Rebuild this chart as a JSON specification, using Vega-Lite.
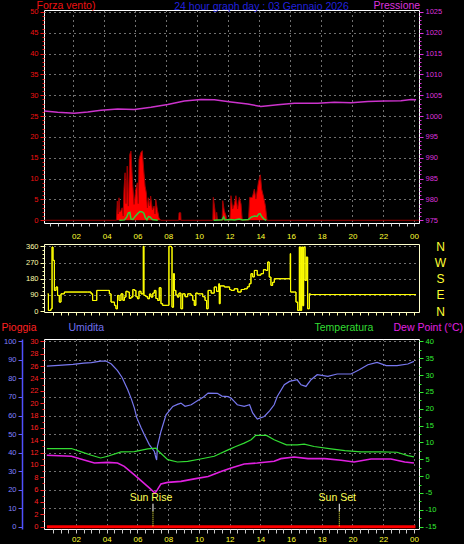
{
  "$schema": "https://vega.github.io/schema/vega-lite/v6.json",
  "background": "black",
  "padding": 0,
  "spacing": 4,
  "config": {
    "view": {"stroke": "#ffffff", "strokeWidth": 1},
    "axis": {"labelFont": "Liberation Sans", "titleFont": "Liberation Sans", "titleFontWeight": "normal", "labelOverlap": false, "labelFlush": false, "labelBound": false, "grid": false, "domain": false, "gridDash": [1, 4], "gridColor": "#e0e0e0", "titleAngle": 0, "titlePadding": 0},
    "text": {"font": "Liberation Sans"}
  },
  "datasets": {
    "pressure": [{"h":0.13,"v":1001.2},{"h":0.99,"v":1000.9},{"h":2.06,"v":1000.7},{"h":2.93,"v":1001.0},{"h":3.79,"v":1001.4},{"h":4.86,"v":1001.7},{"h":5.94,"v":1001.6},{"h":7.01,"v":1002.1},{"h":8.09,"v":1002.8},{"h":9.16,"v":1003.6},{"h":10.24,"v":1004.0},{"h":11.1,"v":1003.9},{"h":12.17,"v":1003.4},{"h":13.25,"v":1002.9},{"h":14.1,"v":1002.3},{"h":15.19,"v":1002.7},{"h":16.26,"v":1003.1},{"h":17.77,"v":1003.1},{"h":18.84,"v":1003.3},{"h":19.92,"v":1003.2},{"h":21.0,"v":1003.5},{"h":22.06,"v":1003.6},{"h":23.14,"v":1003.7},{"h":23.79,"v":1004.0},{"h":24.11,"v":1003.9}],
    "wind": [{"h":0,"v":0},{"h":4.78,"v":0},{"h":4.84,"v":4.6},{"h":4.9,"v":1.5},{"h":4.95,"v":5.4},{"h":5.0,"v":2},{"h":5.06,"v":2.2},{"h":5.15,"v":3},{"h":5.22,"v":1},{"h":5.27,"v":7.4},{"h":5.34,"v":11.4},{"h":5.4,"v":4},{"h":5.48,"v":13},{"h":5.55,"v":3.4},{"h":5.64,"v":15.8},{"h":5.72,"v":16.6},{"h":5.81,"v":9.8},{"h":5.92,"v":3.8},{"h":6.03,"v":7.4},{"h":6.13,"v":9},{"h":6.19,"v":4},{"h":6.24,"v":14.6},{"h":6.35,"v":16.2},{"h":6.45,"v":16.7},{"h":6.54,"v":12.2},{"h":6.63,"v":8.2},{"h":6.71,"v":6.6},{"h":6.78,"v":3},{"h":6.84,"v":5.4},{"h":6.92,"v":3.5},{"h":6.99,"v":5.8},{"h":7.1,"v":2.5},{"h":7.21,"v":3.4},{"h":7.27,"v":1.5},{"h":7.32,"v":5},{"h":7.42,"v":2.6},{"h":7.53,"v":0.6},{"h":7.64,"v":0},{"h":8.8,"v":0},{"h":8.82,"v":1.8},{"h":8.93,"v":1.8},{"h":8.95,"v":0},{"h":11.0,"v":0},{"h":11.03,"v":5.5},{"h":11.13,"v":2.7},{"h":11.19,"v":0},{"h":11.25,"v":1.9},{"h":11.3,"v":0},{"h":11.6,"v":0},{"h":11.64,"v":4.7},{"h":11.74,"v":2.3},{"h":11.85,"v":1.1},{"h":11.9,"v":0},{"h":12.1,"v":0},{"h":12.17,"v":5.9},{"h":12.28,"v":2.7},{"h":12.39,"v":3.9},{"h":12.49,"v":5.9},{"h":12.6,"v":2.7},{"h":12.71,"v":5.5},{"h":12.82,"v":3.9},{"h":12.9,"v":0},{"h":13.3,"v":0},{"h":13.38,"v":5.5},{"h":13.55,"v":5.5},{"h":13.68,"v":7.5},{"h":13.78,"v":5.1},{"h":13.94,"v":9.1},{"h":14.07,"v":10.9},{"h":14.15,"v":7.5},{"h":14.28,"v":5.5},{"h":14.39,"v":3.5},{"h":14.5,"v":0},{"h":24.3,"v":0}],
    "avgwind": [{"g":1,"h":4.97,"v":0},{"g":1,"h":5.3,"v":0.1},{"g":1,"h":5.45,"v":0.8},{"g":1,"h":5.55,"v":1.8},{"g":1,"h":5.65,"v":1.9},{"g":1,"h":5.72,"v":0.3},{"g":1,"h":5.85,"v":0.2},{"g":1,"h":6.0,"v":1.0},{"g":1,"h":6.15,"v":1.6},{"g":1,"h":6.3,"v":2.1},{"g":1,"h":6.45,"v":2.0},{"g":1,"h":6.55,"v":1.7},{"g":1,"h":6.65,"v":0.6},{"g":1,"h":6.75,"v":0.1},{"g":1,"h":6.85,"v":0.9},{"g":1,"h":6.95,"v":0.8},{"g":1,"h":7.1,"v":0.2},{"g":1,"h":7.45,"v":0},{"g":2,"h":11.05,"v":0},{"g":2,"h":11.6,"v":0.1},{"g":2,"h":11.7,"v":0.8},{"g":2,"h":11.78,"v":0.1},{"g":2,"h":12.1,"v":0.2},{"g":2,"h":12.4,"v":0.1},{"g":2,"h":12.7,"v":0.3},{"g":2,"h":12.9,"v":0.1},{"g":2,"h":13.3,"v":0.2},{"g":2,"h":13.5,"v":0.8},{"g":2,"h":13.7,"v":1.0},{"g":2,"h":13.85,"v":0.9},{"g":2,"h":13.95,"v":1.5},{"g":2,"h":14.05,"v":1.6},{"g":2,"h":14.15,"v":0.9},{"g":2,"h":14.3,"v":0.3},{"g":2,"h":14.45,"v":0}],
    "dir": [{"h":0.16,"v":96},{"h":0.2,"v":4},{"h":0.37,"v":13},{"h":0.44,"v":356},{"h":0.5,"v":282},{"h":0.59,"v":115},{"h":0.7,"v":134},{"h":0.8,"v":87},{"h":0.91,"v":50},{"h":1.02,"v":96},{"h":1.24,"v":106},{"h":2.76,"v":106},{"h":2.98,"v":96},{"h":3.08,"v":59},{"h":3.35,"v":115},{"h":4.06,"v":115},{"h":4.17,"v":96},{"h":4.28,"v":50},{"h":4.5,"v":32},{"h":4.6,"v":13},{"h":4.7,"v":87},{"h":4.8,"v":59},{"h":4.93,"v":96},{"h":5.05,"v":60},{"h":5.15,"v":78},{"h":5.25,"v":110},{"h":5.36,"v":106},{"h":5.47,"v":70},{"h":5.58,"v":78},{"h":5.7,"v":120},{"h":5.8,"v":115},{"h":5.9,"v":80},{"h":6.0,"v":69},{"h":6.1,"v":110},{"h":6.23,"v":96},{"h":6.38,"v":360},{"h":6.42,"v":87},{"h":6.55,"v":80},{"h":6.67,"v":69},{"h":6.78,"v":95},{"h":6.88,"v":78},{"h":7.0,"v":100},{"h":7.1,"v":115},{"h":7.2,"v":70},{"h":7.32,"v":59},{"h":7.42,"v":130},{"h":7.53,"v":41},{"h":7.64,"v":32},{"h":7.97,"v":32},{"h":8.05,"v":360},{"h":8.2,"v":356},{"h":8.25,"v":22},{"h":8.35,"v":208},{"h":8.4,"v":115},{"h":8.5,"v":90},{"h":8.6,"v":78},{"h":8.7,"v":100},{"h":8.83,"v":13},{"h":8.94,"v":96},{"h":9.1,"v":80},{"h":9.27,"v":96},{"h":9.49,"v":87},{"h":9.6,"v":60},{"h":9.7,"v":32},{"h":9.8,"v":100},{"h":9.92,"v":96},{"h":10.1,"v":96},{"h":10.25,"v":80},{"h":10.4,"v":59},{"h":10.5,"v":13},{"h":10.6,"v":115},{"h":10.8,"v":100},{"h":11.0,"v":134},{"h":11.15,"v":110},{"h":11.3,"v":152},{"h":11.33,"v":41},{"h":11.38,"v":140},{"h":11.66,"v":134},{"h":12.0,"v":120},{"h":12.09,"v":115},{"h":12.3,"v":124},{"h":12.53,"v":106},{"h":12.75,"v":120},{"h":12.96,"v":124},{"h":13.15,"v":135},{"h":13.28,"v":152},{"h":13.39,"v":208},{"h":13.5,"v":190},{"h":13.61,"v":226},{"h":13.8,"v":200},{"h":14.04,"v":208},{"h":14.2,"v":230},{"h":14.37,"v":226},{"h":14.48,"v":273},{"h":14.58,"v":189},{"h":14.69,"v":143},{"h":14.8,"v":160},{"h":14.91,"v":180},{"h":15.95,"v":319},{"h":15.97,"v":106},{"h":16.21,"v":106},{"h":16.32,"v":50},{"h":16.43,"v":4},{"h":16.54,"v":356},{"h":16.6,"v":4},{"h":16.69,"v":356},{"h":16.76,"v":30},{"h":16.82,"v":356},{"h":16.91,"v":170},{"h":16.99,"v":300},{"h":17.08,"v":13},{"h":17.19,"v":96},{"h":17.25,"v":92},{"h":24.13,"v":92}],
    "hum": [{"h":0.1,"v":86.7},{"h":1.1,"v":87.2},{"h":1.8,"v":87.6},{"h":2.5,"v":88.3},{"h":3.0,"v":88.6},{"h":3.6,"v":89.4},{"h":3.95,"v":89.4},{"h":4.3,"v":87.8},{"h":4.7,"v":84.2},{"h":5.0,"v":80.5},{"h":5.36,"v":74},{"h":5.6,"v":69},{"h":5.8,"v":64},{"h":5.95,"v":59},{"h":6.23,"v":53.5},{"h":6.45,"v":49.6},{"h":6.77,"v":44.3},{"h":7.1,"v":40.6},{"h":7.2,"v":37.1},{"h":7.25,"v":36},{"h":7.3,"v":43.3},{"h":7.53,"v":51.4},{"h":7.86,"v":60.4},{"h":8.3,"v":64.9},{"h":8.6,"v":66},{"h":8.83,"v":66.7},{"h":9.1,"v":65},{"h":9.5,"v":65.8},{"h":9.9,"v":68.0},{"h":10.3,"v":70},{"h":10.6,"v":72.1},{"h":11.2,"v":72},{"h":11.5,"v":70.5},{"h":11.9,"v":70.2},{"h":12.09,"v":69.4},{"h":12.3,"v":67.6},{"h":12.5,"v":65.8},{"h":12.95,"v":64.9},{"h":13.3,"v":65.8},{"h":13.5,"v":61.4},{"h":13.8,"v":58.1},{"h":14.26,"v":59.5},{"h":14.6,"v":62.5},{"h":14.9,"v":65.8},{"h":15.1,"v":70.3},{"h":15.56,"v":76.6},{"h":15.9,"v":78.4},{"h":16.4,"v":79.3},{"h":16.65,"v":76.6},{"h":16.97,"v":75.7},{"h":17.3,"v":79.3},{"h":17.7,"v":82.0},{"h":18.4,"v":81.1},{"h":19.0,"v":82.4},{"h":19.9,"v":82.4},{"h":20.44,"v":84.7},{"h":21.0,"v":87.4},{"h":21.6,"v":88.7},{"h":22.2,"v":86.9},{"h":22.9,"v":86.9},{"h":23.6,"v":87.8},{"h":24.0,"v":89.2}],
    "temp": [{"h":0.1,"v":8.2},{"h":1.7,"v":8.2},{"h":2.3,"v":7.3},{"h":3.0,"v":6.2},{"h":3.6,"v":5.4},{"h":4.06,"v":5.9},{"h":4.93,"v":7.2},{"h":5.8,"v":7.3},{"h":6.67,"v":8.1},{"h":7.2,"v":8.3},{"h":7.4,"v":7.3},{"h":7.97,"v":4.9},{"h":8.6,"v":4.2},{"h":9.27,"v":4.4},{"h":10.1,"v":5.1},{"h":11.0,"v":5.9},{"h":11.9,"v":7.8},{"h":12.4,"v":8.8},{"h":12.95,"v":9.8},{"h":13.4,"v":10.8},{"h":13.7,"v":12.1},{"h":14.4,"v":12.1},{"h":14.9,"v":10.8},{"h":15.7,"v":9.3},{"h":16.4,"v":9.3},{"h":16.86,"v":9.5},{"h":17.5,"v":8.8},{"h":18.6,"v":8.1},{"h":19.5,"v":7.6},{"h":20.55,"v":7.2},{"h":21.86,"v":7.2},{"h":22.9,"v":7.1},{"h":23.6,"v":6.1},{"h":24.0,"v":5.7}],
    "dew": [{"h":0.1,"v":6.2},{"h":1.7,"v":5.9},{"h":2.3,"v":5.1},{"h":3.2,"v":3.9},{"h":4.06,"v":4.1},{"h":4.7,"v":3.9},{"h":5.14,"v":2.9},{"h":5.8,"v":0.4},{"h":6.23,"v":-1.35},{"h":6.77,"v":-3.5},{"h":7.14,"v":-5.0},{"h":7.3,"v":-4.0},{"h":7.53,"v":-2.3},{"h":7.97,"v":-1.85},{"h":8.83,"v":-1.55},{"h":9.7,"v":-0.8},{"h":10.6,"v":-0.1},{"h":11.44,"v":1.4},{"h":12.1,"v":2.4},{"h":12.95,"v":3.6},{"h":13.8,"v":3.9},{"h":14.9,"v":4.4},{"h":15.34,"v":5.2},{"h":16.2,"v":5.7},{"h":17.1,"v":5.2},{"h":18.2,"v":5.2},{"h":19.25,"v":4.7},{"h":20.1,"v":4.2},{"h":21.2,"v":5.1},{"h":22.5,"v":5.1},{"h":23.4,"v":4.2},{"h":24.0,"v":3.9}],
    "rain": [{"h":0.1,"v":0},{"h":24.1,"v":0}],
    "sun": [{"event":"Sun Rise","h":7.01},{"event":"Sun Set","h":19.14}]
  },
  "vconcat": [
    {
      "width": 375,
      "height": 213,
      "encoding": {
        "x": {"field": "h", "type": "quantitative", "scale": {"domain": [0.11, 24.3], "nice": false, "zero": false},
          "axis": {"orient": "bottom", "values": [0.5,1,1.5,2,2.5,3,3.5,4,4.5,5,5.5,6,6.5,7,7.5,8,8.5,9,9.5,10,10.5,11,11.5,12,12.5,13,13.5,14,14.5,15,15.5,16,16.5,17,17.5,18,18.5,19,19.5,20,20.5,21,21.5,22,22.5,23,23.5,24],
            "labels": false, "tickSize": 3, "tickColor": "#cccccc", "grid": true,
            "gridOpacity": {"condition": {"test": "datum.value % 2 === 0", "value": 1}, "value": 0},
            "title": "24 hour graph day : 03 Gennaio 2026", "titleColor": "#2020dd", "titleFontSize": 10.5, "titleX": 217, "titleY": -214, "titleAlign": "center", "titleBaseline": "alphabetic"}}
      },
      "layer": [
        {"data": {"name": "wind"}, "mark": {"type": "area", "color": "#ff0000", "clip": true},
          "encoding": {"y": {"field": "v", "type": "quantitative", "scale": {"domain": [-0.65, 50.45], "nice": false, "zero": false},
            "axis": {"orient": "left", "values": [0,1,2,3,4,5,6,7,8,9,10,11,12,13,14,15,16,17,18,19,20,21,22,23,24,25,26,27,28,29,30,31,32,33,34,35,36,37,38,39,40,41,42,43,44,45,46,47,48,49,50],
              "labelExpr": "datum.value % 5 === 0 ? '' + datum.value : ''", "labelFontSize": 7.5, "labelColor": "#ee1111", "labelPadding": 2,
              "tickColor": "#ee1111", "tickSize": {"condition": {"test": "datum.value % 5 === 0", "value": 4}, "value": 2},
              "grid": true, "gridOpacity": {"condition": {"test": "datum.value % 5 === 0 && datum.value > 0", "value": 1}, "value": 0},
              "title": "Forza vento)", "titleColor": "#ee1111", "titleFontSize": 10.5, "titleX": -8, "titleY": -1.5, "titleAlign": "left", "titleBaseline": "alphabetic"}}}},
        {"data": {"name": "wind"}, "mark": {"type": "line", "color": "#a00000", "strokeWidth": 1, "clip": true},
          "encoding": {"y": {"field": "v", "type": "quantitative", "scale": {"domain": [-0.65, 50.45], "nice": false, "zero": false}, "axis": null}}},
        {"data": {"name": "avgwind"}, "mark": {"type": "line", "color": "#33cc33", "strokeWidth": 1.5, "clip": true},
          "encoding": {"detail": {"field": "g"}, "y": {"field": "v", "type": "quantitative", "scale": {"domain": [-0.65, 50.45], "nice": false, "zero": false}, "axis": null}}},
        {"data": {"name": "pressure"}, "mark": {"type": "line", "color": "#cc33cc", "strokeWidth": 1.5, "clip": true},
          "encoding": {"y": {"field": "v", "type": "quantitative", "scale": {"domain": [974.35, 1025.45], "nice": false, "zero": false},
            "axis": {"orient": "right", "values": [975,976,977,978,979,980,981,982,983,984,985,986,987,988,989,990,991,992,993,994,995,996,997,998,999,1000,1001,1002,1003,1004,1005,1006,1007,1008,1009,1010,1011,1012,1013,1014,1015,1016,1017,1018,1019,1020,1021,1022,1023,1024,1025],
              "labelExpr": "datum.value % 5 === 0 ? '' + datum.value : ''", "labelFontSize": 7.5, "labelColor": "#dd33dd", "labelPadding": 2,
              "tickColor": "#dd33dd", "tickSize": {"condition": {"test": "datum.value % 5 === 0", "value": 4}, "value": 2},
              "title": "Pressione", "titleColor": "#dd33dd", "titleFontSize": 10.5, "titleX": -46, "titleY": -1.5, "titleAlign": "left", "titleBaseline": "alphabetic"}}}}
      ],
      "resolve": {"scale": {"y": "independent"}}
    },
    {
      "width": 375,
      "height": 68,
      "view": {"stroke": "#ffffcc"},
      "data": {"name": "dir"},
      "layer": [
        {"mark": {"type": "line", "color": "#ffff00", "strokeWidth": 1, "interpolate": "step-after", "clip": true},
          "encoding": {
            "x": {"field": "h", "type": "quantitative", "scale": {"domain": [-0.085, 24.33], "nice": false, "zero": false},
              "axis": {"orient": "bottom", "values": [0.5,1,1.5,2,2.5,3,3.5,4,4.5,5,5.5,6,6.5,7,7.5,8,8.5,9,9.5,10,10.5,11,11.5,12,12.5,13,13.5,14,14.5,15,15.5,16,16.5,17,17.5,18,18.5,19,19.5,20,20.5,21,21.5,22,22.5,23,23.5,24], "labels": false, "tickSize": 3, "tickColor": "#ffffaa", "title": null}},
            "y": {"field": "v", "type": "quantitative", "scale": {"domain": [-5, 373], "nice": false, "zero": false},
              "axis": {"orient": "left", "values": [0,22.5,45,67.5,90,112.5,135,157.5,180,202.5,225,247.5,270,292.5,315,337.5,360],
                "labelExpr": "datum.value % 90 === 0 ? '' + datum.value : ''", "labelFontSize": 7.5, "labelColor": "#ffffaa", "labelPadding": 2,
                "tickColor": "#ffffaa", "tickSize": {"condition": {"test": "datum.value % 90 === 0", "value": 4}, "value": 2},
                "grid": true, "gridOpacity": {"condition": {"test": "datum.value % 90 === 0 && datum.value > 0", "value": 1}, "value": 0}, "title": null}}}},
        {"mark": {"type": "line", "color": "#ffff00", "strokeWidth": 1, "interpolate": "step-after", "clip": true},
          "encoding": {
            "x": {"field": "h", "type": "quantitative", "scale": {"domain": [-0.085, 24.33], "nice": false, "zero": false},
              "axis": {"orient": "top", "values": [2,4,6,8,10,12,14,16,18,20,22,24], "labelExpr": "datum.value === 24 ? '00' : (datum.value < 10 ? '0' + datum.value : '' + datum.value)", "ticks": false, "labelPadding": 4, "labelFontSize": 8, "labelColor": "#ffff33", "title": null}},
            "y": {"field": "v", "type": "quantitative", "scale": {"domain": [-5, 373], "nice": false, "zero": false},
              "axis": {"orient": "right", "values": [0, 90, 180, 270, 360], "labelExpr": "datum.value === 90 ? 'E' : (datum.value === 180 ? 'S' : (datum.value === 270 ? 'W' : 'N'))", "ticks": false, "labelPadding": 21, "labelAlign": "center", "labelFontSize": 12, "labelColor": "#ffff33", "title": null}}}}
      ],
      "resolve": {"scale": {"x": "independent", "y": "independent"}}
    },
    {
      "width": 375,
      "height": 190,
      "encoding": {
        "x": {"field": "h", "type": "quantitative", "scale": {"domain": [-0.085, 24.33], "nice": false, "zero": false},
          "axis": {"orient": "bottom", "values": [0.5,1,1.5,2,2.5,3,3.5,4,4.5,5,5.5,6,6.5,7,7.5,8,8.5,9,9.5,10,10.5,11,11.5,12,12.5,13,13.5,14,14.5,15,15.5,16,16.5,17,17.5,18,18.5,19,19.5,20,20.5,21,21.5,22,22.5,23,23.5,24],
            "labelExpr": "datum.value % 2 === 0 ? (datum.value === 24 ? '00' : (datum.value < 10 ? '0' + datum.value : '' + datum.value)) : ''",
            "tickSize": 4, "tickColor": "#cccccc", "labelPadding": 2, "labelFontSize": 8, "labelColor": "#ffff33",
            "grid": true, "gridOpacity": {"condition": {"test": "datum.value % 2 === 0", "value": 1}, "value": 0}, "title": null}}
      },
      "layer": [
        {"data": {"name": "hum"}, "mark": {"type": "line", "color": "#7878f0", "strokeWidth": 1.2},
          "encoding": {"y": {"field": "v", "type": "quantitative", "scale": {"domain": [-1.25, 101.3], "nice": false, "zero": false},
            "axis": {"orient": "left", "offset": 22, "values": [0,10,20,30,40,50,60,70,80,90,100], "labelExpr": "'' + datum.value", "labelFontSize": 7.5, "labelColor": "#8080ff", "labelPadding": 2,
              "tickColor": "#6060ff", "tickSize": 4, "domain": true, "domainColor": "#5050ff", "domainWidth": 1.5,
              "title": "Umidita", "titleColor": "#7070ee", "titleFontSize": 10.5, "titleX": 46, "titleY": -8.3, "titleAlign": "left", "titleBaseline": "alphabetic"}}}},
        {"data": {"name": "temp"}, "mark": {"type": "line", "color": "#33dd33", "strokeWidth": 1.2},
          "encoding": {"y": {"field": "v", "type": "quantitative", "scale": {"domain": [-15.6875, 40.715], "nice": false, "zero": false},
            "axis": {"orient": "right", "values": [-15,-12.5,-10,-7.5,-5,-2.5,0,2.5,5,7.5,10,12.5,15,17.5,20,22.5,25,27.5,30,32.5,35,37.5,40],
              "labelExpr": "datum.value % 5 === 0 ? '' + datum.value : ''", "labelFontSize": 7.5, "labelColor": "#33ee33", "labelPadding": 2,
              "tickColor": "#33ee33", "tickSize": {"condition": {"test": "datum.value % 5 === 0", "value": 4}, "value": 2},
              "title": "Temperatura", "titleColor": "#33dd33", "titleFontSize": 10.5, "titleX": -105, "titleY": -8.3, "titleAlign": "left", "titleBaseline": "alphabetic"}}}},
        {"data": {"name": "dew"}, "mark": {"type": "line", "color": "#e020e0", "strokeWidth": 1.6},
          "encoding": {"y": {"field": "v", "type": "quantitative", "scale": {"domain": [-15.6875, 40.715], "nice": false, "zero": false},
            "axis": {"orient": "right", "labels": false, "ticks": false, "domain": false,
              "title": "Dew Point (°C)", "titleColor": "#e020e0", "titleFontSize": 10.5, "titleX": -26, "titleY": -8.3, "titleAlign": "left", "titleBaseline": "alphabetic"}}}},
        {"data": {"name": "rain"}, "mark": {"type": "line", "color": "#ff0000", "strokeWidth": 3},
          "encoding": {"y": {"field": "v", "type": "quantitative", "scale": {"domain": [-0.375, 30.39], "nice": false, "zero": false},
            "axis": {"orient": "left", "values": [0,1,2,3,4,5,6,7,8,9,10,11,12,13,14,15,16,17,18,19,20,21,22,23,24,25,26,27,28,29,30],
              "labelExpr": "datum.value % 2 === 0 ? '' + datum.value : ''", "labelFontSize": 7.5, "labelColor": "#ff2020", "labelPadding": 2,
              "tickColor": "#ff2020", "tickSize": {"condition": {"test": "datum.value % 2 === 0", "value": 4}, "value": 2},
              "grid": true, "gridOpacity": {"condition": {"test": "datum.value % 3 === 0 && datum.value > 0", "value": 1}, "value": 0},
              "title": "Pioggia", "titleColor": "#ff2020", "titleFontSize": 10.5, "titleX": -43, "titleY": -8.3, "titleAlign": "left", "titleBaseline": "alphabetic"}}}},
        {"data": {"name": "sun"}, "mark": {"type": "rule", "color": "#ffffff", "strokeWidth": 1},
          "encoding": {"y": {"datum": 12.4, "type": "quantitative", "scale": {"domain": [-1.25, 101.3], "nice": false, "zero": false}, "axis": null}, "y2": {"datum": 8.3}}},
        {"data": {"name": "sun"}, "mark": {"type": "rule", "color": "#ffff44", "strokeWidth": 1, "strokeDash": [1, 1]},
          "encoding": {"y": {"datum": 8.3, "type": "quantitative", "scale": {"domain": [-1.25, 101.3], "nice": false, "zero": false}, "axis": null}, "y2": {"datum": 0}}},
        {"data": {"name": "sun"}, "mark": {"type": "text", "color": "#ffff55", "fontSize": 10.5, "baseline": "alphabetic", "align": "center", "dx": -2},
          "encoding": {"text": {"field": "event"}, "y": {"datum": 13.6, "type": "quantitative", "scale": {"domain": [-1.25, 101.3], "nice": false, "zero": false}, "axis": null}}}
      ],
      "resolve": {"scale": {"y": "independent"}}
    }
  ]
}
